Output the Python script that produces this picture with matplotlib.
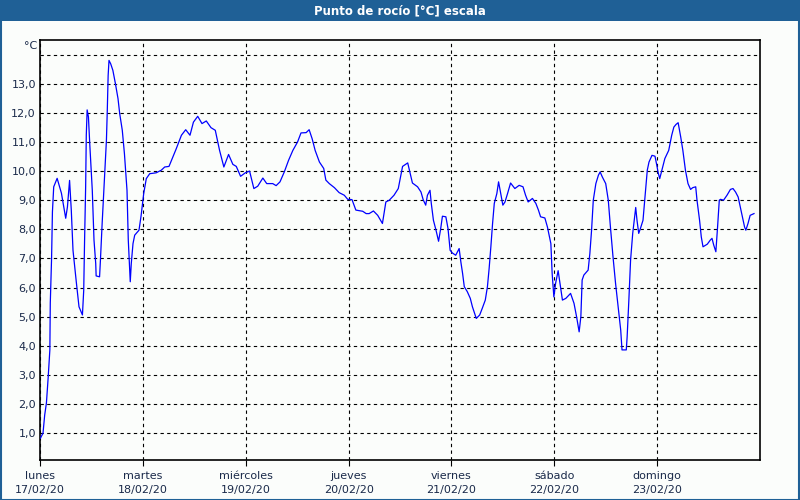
import matplotlib
matplotlib.use("Agg")
import matplotlib.pyplot as plt
import numpy as np
from matplotlib.patches import Rectangle

# ---- data ----
day_names = ["lunes", "martes", "miércoles", "jueves", "viernes", "sábado", "domingo"]
day_dates = ["17/02/20", "18/02/20", "19/02/20", "20/02/20", "21/02/20", "22/02/20", "23/02/20"]
y_ticks = [1, 2, 3, 4, 5, 6, 7, 8, 9, 10, 11, 12, 13]

# hours since 17/02/20 00:00
hours = [0.1, 0.7, 1.1, 1.5, 1.9, 2.3, 2.4, 2.7, 2.9, 3.2, 4.0, 5.0, 6.0, 6.4, 6.9, 7.3, 7.7, 8.5,
         9.1, 9.9, 10.2, 10.4, 10.65, 10.8, 11.0, 11.3, 11.6, 12.2, 12.6, 13.0, 13.1, 13.9, 14.1,
         14.5, 15.1, 15.5, 15.7, 15.9, 16.1, 16.5, 17.0, 17.6, 18.2, 18.6, 19.2, 19.7, 20.3, 20.6,
         20.9, 21.06, 21.3, 21.7, 22.1, 23.1, 23.6, 24.2, 24.8, 25.6, 27.1, 28.3, 29.1, 30.1, 31.0,
         31.8, 33.0, 34.0, 35.0, 35.8, 36.8, 37.8, 38.8, 39.9, 40.9, 41.9, 42.9, 44.0, 45.0, 45.8,
         46.8, 47.9, 48.9, 49.9, 50.8, 52.0, 52.9, 54.3, 55.1, 56.0, 57.0, 58.0, 59.0, 60.1, 60.9,
         62.1, 62.8, 63.5, 64.2, 65.2, 66.2, 66.7, 67.5, 68.7, 69.8, 71.0, 71.8, 72.8, 73.7, 75.3,
         76.1, 76.8, 77.8, 78.8, 79.9, 80.7, 81.5, 82.6, 83.6, 84.6, 85.8, 86.9, 88.1, 88.9, 89.4,
         90.0, 90.4, 91.0, 91.3, 91.8, 92.4, 93.0, 93.5, 93.9, 94.7, 95.2, 95.7, 96.2, 97.0, 97.8,
         98.2, 98.6, 99.0, 99.7, 100.4, 100.9, 101.8, 102.6, 103.2, 103.9, 104.4, 104.8, 105.2,
         105.6, 106.0, 106.6, 107.0, 107.5, 108.0, 108.5, 109.1, 109.8, 110.8, 111.8, 112.7, 113.3,
         113.9, 114.9, 115.7, 116.3, 116.8, 117.8, 118.4, 119.2, 119.5, 119.9, 120.3, 120.9, 121.5,
         121.9, 122.7, 123.8, 124.6, 125.2, 125.8, 126.2, 126.5, 126.9, 127.9, 128.3, 128.7, 129.1,
         129.7, 130.3, 130.7, 131.2, 132.0, 132.6, 133.1, 133.7, 134.3, 134.9, 135.5, 135.8, 136.8,
         137.0, 137.4, 137.8, 138.3, 139.0, 139.3, 139.7, 140.1, 140.7, 141.1, 141.7, 142.1, 142.8,
         143.5, 144.0, 144.2, 144.6, 145.2, 145.8, 146.7, 147.4, 147.9, 148.4, 148.9, 149.5, 150.0,
         150.6, 151.2, 151.8, 152.3, 153.0, 153.3, 153.9, 154.3, 154.7, 155.7, 156.4, 156.8, 157.2,
         157.7, 158.1, 158.5, 158.8, 159.5, 160.3, 161.1, 161.7, 162.3, 162.9, 163.4, 164.0, 164.4,
         164.7, 165.2, 165.7, 166.6]
dewpoint = [0.83, 1.0, 1.63, 2.04, 2.9, 3.86, 5.47, 7.0, 8.6, 9.46, 9.75, 9.24, 8.38, 8.77, 9.68,
            8.66, 7.28, 6.15, 5.34, 5.06, 5.9, 7.6, 9.46, 11.23, 12.1, 11.86, 10.96, 9.34, 7.63,
            6.83, 6.4, 6.37, 6.94, 8.2, 9.9, 11.06, 12.08, 13.28, 13.8, 13.68, 13.46, 13.0, 12.49,
            11.97, 11.4, 10.6, 9.34, 7.63, 6.71, 6.2, 6.83, 7.51, 7.8, 7.97, 8.48, 9.23, 9.74, 9.91,
            9.94, 10.03, 10.14, 10.16, 10.48, 10.77, 11.23, 11.42, 11.23, 11.68, 11.88, 11.63,
            11.72, 11.49, 11.4, 10.71, 10.14, 10.57, 10.23, 10.16, 9.82, 9.94, 10.0, 9.4, 9.48,
            9.76, 9.57, 9.57, 9.5, 9.63, 9.97, 10.37, 10.71, 11.0, 11.31, 11.32, 11.42, 11.11,
            10.71, 10.31, 10.09, 9.69, 9.57, 9.43, 9.26, 9.17, 9.03, 9.02, 8.66, 8.62, 8.54, 8.54,
            8.63, 8.48, 8.2, 8.94, 9.0, 9.17, 9.4, 10.16, 10.28, 9.59, 9.46, 9.28, 9.02, 8.83, 9.17,
            9.34, 8.89, 8.31, 7.97, 7.59, 8.03, 8.45, 8.43, 8.03, 7.28, 7.19, 7.11, 7.34, 6.88, 6.49,
            6.03, 5.86, 5.63, 5.34, 4.94, 5.06, 5.29, 5.57, 6.03, 6.66, 7.4, 8.2, 8.89, 9.23, 9.63,
            9.23, 8.83, 8.94, 9.23, 9.59, 9.4, 9.51, 9.46, 9.17, 8.94, 9.06, 8.89, 8.66, 8.43, 8.39,
            8.08, 7.51, 6.49, 5.68, 6.14, 6.58, 5.97, 5.57, 5.63, 5.8, 5.46, 5.0, 4.48, 5.0, 6.26,
            6.43, 6.6, 7.17, 7.97, 9.0, 9.57, 9.86, 9.97, 9.8, 9.57, 9.0, 8.08, 7.06, 6.14, 5.34,
            4.54, 3.86, 3.86, 4.31, 5.57, 6.94, 7.86, 8.75, 8.31, 7.86, 8.03, 8.31, 9.0, 10.03,
            10.31, 10.54, 10.51, 10.14, 9.97, 9.74, 10.09, 10.43, 10.71, 11.23, 11.51, 11.6, 11.66,
            11.17, 10.71, 10.03, 9.57, 9.37, 9.43, 9.46, 9.0, 8.31, 7.74, 7.4, 7.49, 7.63, 7.69,
            7.46, 7.23, 8.08, 9.0, 9.03, 9.0, 9.17, 9.37, 9.4, 9.28, 9.11, 8.77, 8.37, 8.08, 7.97,
            8.2, 8.48, 8.54]

title = "Punto de rocío [°C] escala"

# ---- figure ----
plt.rcParams['font.family'] = ['DejaVu Sans']
bg = "#fbfdfb"
frame_blue = "#1f6096"
fig = plt.figure(figsize=(8, 5), dpi=100, facecolor=bg)

# title bar and outer frame
fig.patches.append(Rectangle((0, 1 - 21 / 500), 1, 21 / 500, transform=fig.transFigure,
                             facecolor=frame_blue, edgecolor="none", zorder=0))
fig.patches.append(Rectangle((0.5 / 800, 0.5 / 500), 1 - 1.5 / 800, 1 - 1.5 / 500,
                             transform=fig.transFigure, facecolor="none",
                             edgecolor=frame_blue, linewidth=1.5, zorder=0))
fig.text(0.5, 1 - 10.5 / 500, title, color="white", fontsize=8.5, fontweight="bold",
         ha="center", va="center")

ax = fig.add_axes([40 / 800, 1 - 460 / 500, 720 / 800, 420 / 500])
ax.set_facecolor(bg)

x_days = np.array(hours) / 24.0
ax.plot(x_days, dewpoint, color="#0000ff", linewidth=0.9, zorder=3)

ax.set_xlim(0, 7)
ax.set_ylim(0.08, 14.5)

day_pos = np.arange(len(day_names))
ax.set_xticks(day_pos)
ax.set_xticklabels([f"{n}\n{d}" for n, d in zip(day_names, day_dates)],
                   fontsize=8, color="#1a2a4a", linespacing=1.45)
ax.tick_params(axis="x", length=4, width=0.8, color="black", pad=4)

ax.set_yticks(y_ticks + [14])
ax.set_yticklabels([f"{v:.1f}".replace(".", ",") for v in y_ticks] + [""],
                   fontsize=8, color="#1a2a4a")
ax.tick_params(axis="y", length=0, pad=3)

ax.grid(True, color="black", linestyle=(0, (3, 3)), linewidth=0.8)
for s in ax.spines.values():
    s.set_color("black")
    s.set_linewidth(1.2)

fig.text(37 / 800, 1 - 46 / 500, "°C", fontsize=8, color="#1a2a4a", ha="right", va="center")

fig.savefig("out.png", dpi=100, facecolor=bg)
